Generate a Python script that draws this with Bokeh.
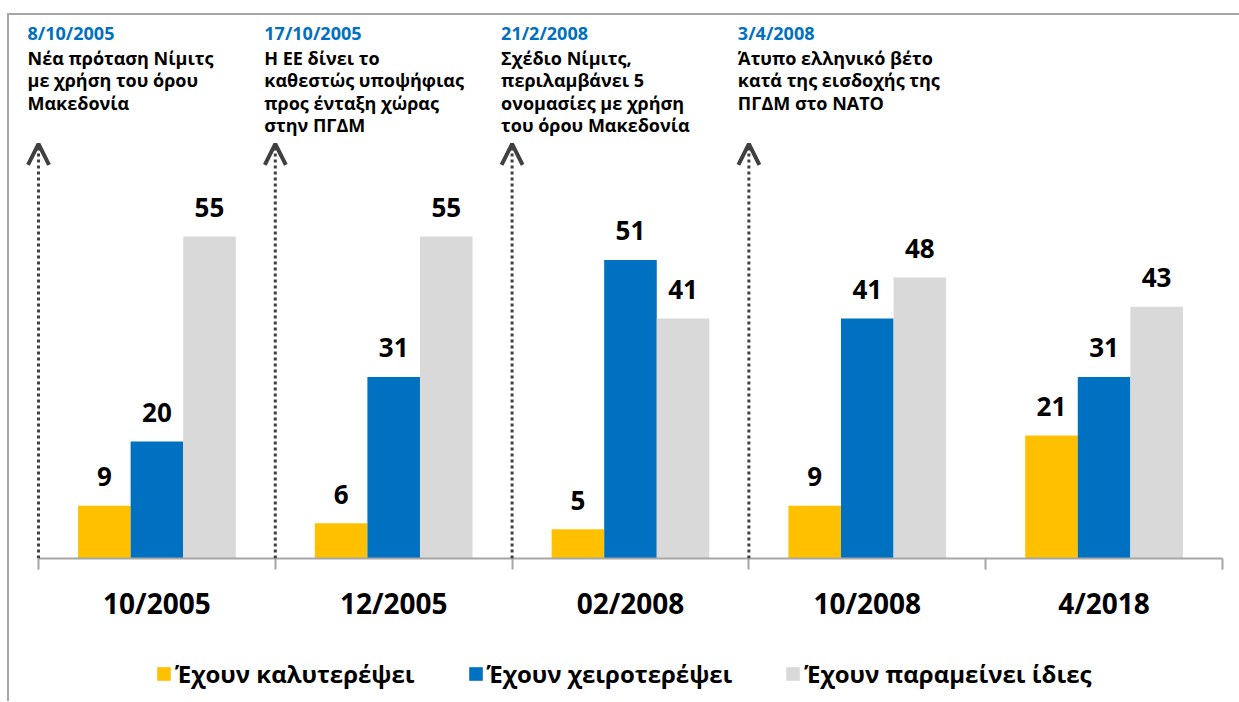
import numpy as np
from bokeh.plotting import figure
from bokeh.layouts import column
from bokeh.models import (ColumnDataSource, Range1d, LinearAxis, FixedTicker,
                          CustomJSTickFormatter, Legend, LegendItem, Arrow, OpenHead)
from bokeh.transform import dodge
from bokeh.core.properties import value
from bokeh.embed import file_html
from bokeh.resources import INLINE

# ---- data ----
categories = ["10/2005", "12/2005", "02/2008", "10/2008", "4/2018"]
better = [9, 6, 5, 9, 21]
worse = [20, 31, 51, 41, 31]
same = [55, 55, 41, 48, 43]
series_names = ["Έχουν καλυτερέψει", "Έχουν χειροτερέψει", "Έχουν παραμείνει ίδιες"]

event_dates = ["8/10/2005", "17/10/2005", "21/2/2008", "3/4/2008"]
event_texts = [
    ["Νέα πρόταση Νίμιτς", "με χρήση του όρου", "Μακεδονία"],
    ["Η ΕΕ δίνει το", "καθεστώς υποψήφιας", "προς ένταξη χώρας", "στην ΠΓΔΜ"],
    ["Σχέδιο Νίμιτς,", "περιλαμβάνει 5", "ονομασίες με χρήση", "του όρου Μακεδονία"],
    ["Άτυπο ελληνικό βέτο", "κατά της εισδοχής της", "ΠΓΔΜ στο ΝΑΤΟ"],
]
# events happen just before the survey of the same index (left edge of that category)
event_positions = [0, 1, 2, 3]

# ---- styles ----
YELLOW, BLUE, GRAY = "#FFC000", "#0070C0", "#D9D9D9"
FONT = value("Open Sans")
colors = [YELLOW, BLUE, GRAY]

W, H1, H2 = 1230, 643, 43
p = figure(width=W, height=H1, output_backend="svg", toolbar_location=None,
           x_axis_location=None, y_axis_location=None,
           x_range=Range1d(-0.1225, 5.072), y_range=Range1d(0, 92.74),
           min_border_left=0, min_border_right=0, min_border_top=0,
           min_border_bottom=H1 - 543)
p.outline_line_color = None
p.xgrid.visible = False
p.ygrid.visible = False
p.background_fill_color = "white"
p.border_fill_color = "white"

n = len(categories)
centers = list(np.arange(n) + 0.5)
src = ColumnDataSource(dict(x=centers, cat=categories, better=better, worse=worse, same=same,
                            better_t=[str(v) for v in better],
                            worse_t=[str(v) for v in worse],
                            same_t=[str(v) for v in same]))

bw = 0.222
offsets = [-bw, 0.0, bw]
fields = ["better", "worse", "same"]
for f, off, c in zip(fields, offsets, colors):
    p.vbar(x=dodge("x", off, range=p.x_range), top=f, width=bw, bottom=0,
           source=src, fill_color=c, line_color=None)
    p.text(x=dodge("x", off, range=p.x_range), y=f, text=f + "_t", source=src,
           text_font=FONT, text_font_style="bold", text_font_size="26px",
           text_color="black", text_align="center", text_baseline="alphabetic",
           y_offset=-29)

# ---- axis ----
ax = LinearAxis(ticker=FixedTicker(ticks=centers, minor_ticks=list(range(n + 1))),
                formatter=CustomJSTickFormatter(args=dict(labels=categories),
                                                code="return labels[Math.floor(tick)]"),
                bounds=(0, n))
ax.axis_line_color = "#A6A6A6"
ax.axis_line_width = 2
ax.major_tick_line_color = None
ax.major_tick_in = 0
ax.major_tick_out = 0
ax.minor_tick_line_color = "#A6A6A6"
ax.minor_tick_line_width = 2
ax.minor_tick_in = 0
ax.minor_tick_out = 11
ax.major_label_standoff = 14
ax.major_label_text_font = "Open Sans"
ax.major_label_text_font_style = "bold"
ax.major_label_text_font_size = "28px"
ax.major_label_text_color = "black"
p.add_layout(ax, "below")

# ---- event arrows ----
arrow_top = 70.8
for xpos in event_positions:
    p.add_layout(Arrow(x_start=xpos, y_start=0, x_end=xpos, y_end=arrow_top,
                       line_color="#404040", line_width=3, line_dash="3 3",
                       end=OpenHead(size=21, line_width=4, line_color="#404040")))

# ---- event texts ----
ev_top = p.y_range.end
p.text(x=event_positions, y=[ev_top] * len(event_positions), text=event_dates,
       x_offset=-11, y_offset=17, text_font=FONT, text_font_style="bold",
       text_font_size="18px", text_color=BLUE, text_baseline="alphabetic")
lx, ly, lt, lo = [], [], [], []
for xpos, lines in zip(event_positions, event_texts):
    for k, line in enumerate(lines):
        lx.append(xpos)
        ly.append(ev_top)
        lt.append(line)
        lo.append(42 + 22.5 * k)
lsrc = ColumnDataSource(dict(x=lx, y=ly, t=lt, o=lo))
p.text(x="x", y="y", text="t", y_offset="o", x_offset=-11, source=lsrc,
       text_font=FONT, text_font_style="bold", text_font_size="18px",
       text_color="black", text_baseline="alphabetic")

# ---- legend strip (separate small figure under the chart) ----
q = figure(width=W, height=H2, output_backend="svg", toolbar_location=None,
           x_axis_location=None, y_axis_location=None,
           x_range=Range1d(0, 1), y_range=Range1d(0, 1),
           min_border_left=0, min_border_right=0, min_border_top=0, min_border_bottom=0)
q.outline_line_color = None
q.xgrid.visible = False
q.ygrid.visible = False
q.background_fill_color = "white"
q.border_fill_color = "white"
leg_renderers = []
for f, c in zip(fields, colors):
    r = q.vbar(x="x", top=f, width=bw, source=src, fill_color=c, line_color=None)
    r.visible = False
    leg_renderers.append(r)
legend = Legend(items=[LegendItem(label=nm, renderers=[r]) for nm, r in zip(series_names, leg_renderers)],
                orientation="horizontal", location=(146, 11),
                label_text_font="Open Sans", label_text_font_style="bold",
                label_text_font_size="24px", label_text_color="black",
                glyph_width=17, glyph_height=17, label_standoff=3, spacing=52,
                padding=0, margin=0, border_line_color=None, background_fill_alpha=0)
q.add_layout(legend, "center")

layout = column(p, q, spacing=0)
layout.styles = {"border-top": "2px solid #A6A6A6", "border-left": "2px solid #A6A6A6",
                 "position": "relative", "top": "13px", "left": "7px"}

open("out.html", "w").write(file_html(layout, INLINE))
